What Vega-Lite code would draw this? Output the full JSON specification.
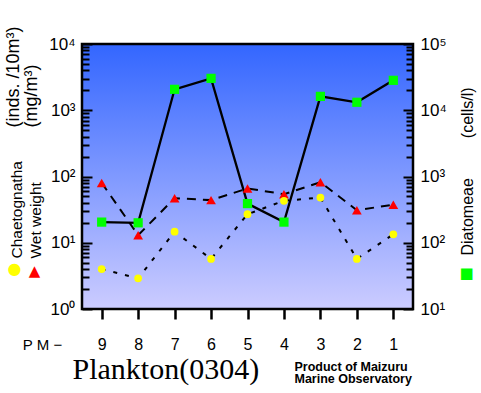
{
  "$schema": "https://vega.github.io/schema/vega-lite/v6.json",
  "width": 331,
  "height": 265,
  "autosize": "none",
  "padding": {"left": 82, "top": 44, "right": 68, "bottom": 84},
  "background": "white",
  "data": {"values": [
    {"station": 9, "ww": 80, "ch": 4.0, "di": 205},
    {"station": 8, "ww": 13, "ch": 2.9, "di": 200},
    {"station": 7, "ww": 47, "ch": 14.7, "di": 20700},
    {"station": 6, "ww": 44, "ch": 5.7, "di": 30300},
    {"station": 5, "ww": 66, "ch": 27, "di": 390},
    {"station": 4, "ww": 54, "ch": 43, "di": 205},
    {"station": 3, "ww": 82, "ch": 48, "di": 16200},
    {"station": 2, "ww": 31, "ch": 5.7, "di": 13200},
    {"station": 1, "ww": 37.5, "ch": 13.4, "di": 28300}
  ]},
  "layer": [
    {
      "mark": {"type": "line", "color": "black", "strokeWidth": 2, "strokeDash": [9, 7]},
      "encoding": {
        "x": {"field": "station", "type": "ordinal", "sort": "descending", "scale": {"type": "point", "padding": 0.54},
          "axis": {"orient": "bottom", "labelAngle": 0, "labelFontSize": 16, "labelPadding": 17, "tickSize": 10, "tickWidth": 2.5, "tickColor": "black",
            "title": "P M −", "titleFontSize": 15, "titleFontWeight": "normal", "titleX": -40, "titleY": 40, "titleAlign": "center", "titleBaseline": "alphabetic"}},
        "y": {"field": "ww", "type": "quantitative", "scale": {"type": "log", "domain": [1, 10000], "nice": false},
          "axis": {"orient": "left",
            "values": [1,2,3,4,5,6,7,8,9,10,20,30,40,50,60,70,80,90,100,200,300,400,500,600,700,800,900,1000,2000,3000,4000,5000,6000,7000,8000,9000,10000],
            "labelExpr": "datum.value == 1 ? '10⁰' : datum.value == 10 ? '10¹' : datum.value == 100 ? '10²' : datum.value == 1000 ? '10³' : datum.value == 10000 ? '10⁴' : ''",
            "labelOverlap": false, "labelFlush": false, "labelFontSize": 17, "labelPadding": 17,
            "tickSize": {"condition": {"test": "datum.value == 1 || datum.value == 10 || datum.value == 100 || datum.value == 1000 || datum.value == 10000", "value": -10}, "value": -7},
            "tickWidth": 2, "tickColor": "black",
            "title": ["(inds. /10m³)", "(mg/m³)"], "titleFontSize": 18, "titleFontWeight": "normal", "titleAngle": -90,
            "titleAlign": "left", "titleBaseline": "alphabetic", "titleX": -64, "titleY": 83, "titleLineHeight": 18.5}}
      }
    },
    {
      "mark": {"type": "line", "color": "black", "strokeWidth": 2, "strokeDash": [4, 8]},
      "encoding": {
        "x": {"field": "station", "type": "ordinal", "sort": "descending", "scale": {"type": "point", "padding": 0.54},
          "axis": {"orient": "bottom", "labels": false, "ticks": false, "domain": false,
            "title": ["Product of Maizuru", "Marine Observatory"], "titleFontSize": 12.5, "titleFontWeight": "bold", "titleLineHeight": 12.5,
            "titleX": 212, "titleY": 61, "titleAlign": "left", "titleBaseline": "alphabetic"}},
        "y": {"field": "ch", "type": "quantitative", "scale": {"type": "log", "domain": [1, 10000], "nice": false},
          "axis": {"orient": "left", "labels": false, "ticks": false, "domain": false,
            "title": ["Chaetognatha", "Wet weight"], "titleFontSize": 15.5, "titleFontWeight": "normal", "titleAngle": -90,
            "titleAlign": "left", "titleBaseline": "alphabetic", "titleX": -61, "titleY": 214, "titleLineHeight": 19}}
      }
    },
    {
      "mark": {"type": "line", "color": "black", "strokeWidth": 2.3},
      "encoding": {
        "x": {"field": "station", "type": "ordinal", "sort": "descending", "scale": {"type": "point", "padding": 0.54}, "axis": null},
        "y": {"field": "di", "type": "quantitative", "scale": {"type": "log", "domain": [10, 100000], "nice": false},
          "axis": {"orient": "right",
            "values": [10,20,30,40,50,60,70,80,90,100,200,300,400,500,600,700,800,900,1000,2000,3000,4000,5000,6000,7000,8000,9000,10000,20000,30000,40000,50000,60000,70000,80000,90000,100000],
            "labelExpr": "datum.value == 10 ? '10¹' : datum.value == 100 ? '10²' : datum.value == 1000 ? '10³' : datum.value == 10000 ? '10⁴' : datum.value == 100000 ? '10⁵' : ''",
            "labelOverlap": false, "labelFlush": false, "labelFontSize": 17, "labelPadding": 17,
            "tickSize": {"condition": {"test": "datum.value == 10 || datum.value == 100 || datum.value == 1000 || datum.value == 10000 || datum.value == 100000", "value": -10}, "value": -7},
            "tickWidth": 2, "tickColor": "black",
            "title": "Diatomeae\u2002\u2002\u2002\u2002\u2002(cells/l)", "titleFontSize": 16, "titleFontWeight": "normal", "titleAngle": -90,
            "titleAlign": "left", "titleBaseline": "alphabetic", "titleX": 59, "titleY": 211}}
      }
    },
    {
      "mark": {"type": "point", "shape": "triangle-up", "filled": true, "color": "#ff0000", "size": 95, "opacity": 1},
      "encoding": {
        "x": {"field": "station", "type": "ordinal", "sort": "descending", "scale": {"type": "point", "padding": 0.54},
          "axis": {"orient": "bottom", "labels": false, "ticks": false, "domain": false,
            "title": "Plankton(0304)", "titleFont": "Liberation Serif", "titleFontSize": 30, "titleFontWeight": "normal",
            "titleX": -10, "titleY": 69, "titleAlign": "left", "titleBaseline": "alphabetic"}},
        "y": {"field": "ww", "type": "quantitative", "scale": {"type": "log", "domain": [1, 10000], "nice": false},
          "axis": {"orient": "left", "labels": false, "ticks": false, "domain": false,
            "title": "▲", "titleColor": "#ff0000", "titleFont": "DejaVu Sans", "titleFontSize": 15, "titleFontWeight": "normal", "titleAngle": 0,
            "titleAlign": "center", "titleBaseline": "middle", "titleX": -48, "titleY": 226}}
      }
    },
    {
      "mark": {"type": "point", "shape": "circle", "filled": true, "color": "#ffff00", "size": 60, "opacity": 1},
      "encoding": {
        "x": {"field": "station", "type": "ordinal", "sort": "descending", "scale": {"type": "point", "padding": 0.54}, "axis": null},
        "y": {"field": "ch", "type": "quantitative", "scale": {"type": "log", "domain": [1, 10000], "nice": false},
          "axis": {"orient": "left", "labels": false, "ticks": false, "domain": false,
            "title": "●", "titleColor": "#ffff00", "titleFont": "DejaVu Sans", "titleFontSize": 16, "titleFontWeight": "normal", "titleAngle": 0,
            "titleAlign": "center", "titleBaseline": "middle", "titleX": -68, "titleY": 224}}
      }
    },
    {
      "mark": {"type": "point", "shape": "square", "filled": true, "color": "#00ff00", "size": 85, "opacity": 1},
      "encoding": {
        "x": {"field": "station", "type": "ordinal", "sort": "descending", "scale": {"type": "point", "padding": 0.54}, "axis": null},
        "y": {"field": "di", "type": "quantitative", "scale": {"type": "log", "domain": [10, 100000], "nice": false},
          "axis": {"orient": "right", "labels": false, "ticks": false, "domain": false,
            "title": "■", "titleColor": "#00ff00", "titleFont": "DejaVu Sans", "titleFontSize": 15, "titleFontWeight": "normal", "titleAngle": 0,
            "titleAlign": "center", "titleBaseline": "middle", "titleX": 53, "titleY": 228}}
      }
    }
  ],
  "resolve": {"scale": {"x": "independent", "y": "independent"}},
  "config": {
    "view": {
      "fill": {"gradient": "linear", "x1": 0, "y1": 0, "x2": 0, "y2": 1,
        "stops": [{"offset": 0, "color": "#3366ff"}, {"offset": 1, "color": "#ccccff"}]},
      "stroke": "black",
      "strokeWidth": 2.5
    },
    "axis": {
      "labelFont": "Liberation Sans",
      "titleFont": "Liberation Sans",
      "labelColor": "black",
      "titleColor": "black",
      "grid": false,
      "domain": false
    }
  }
}
